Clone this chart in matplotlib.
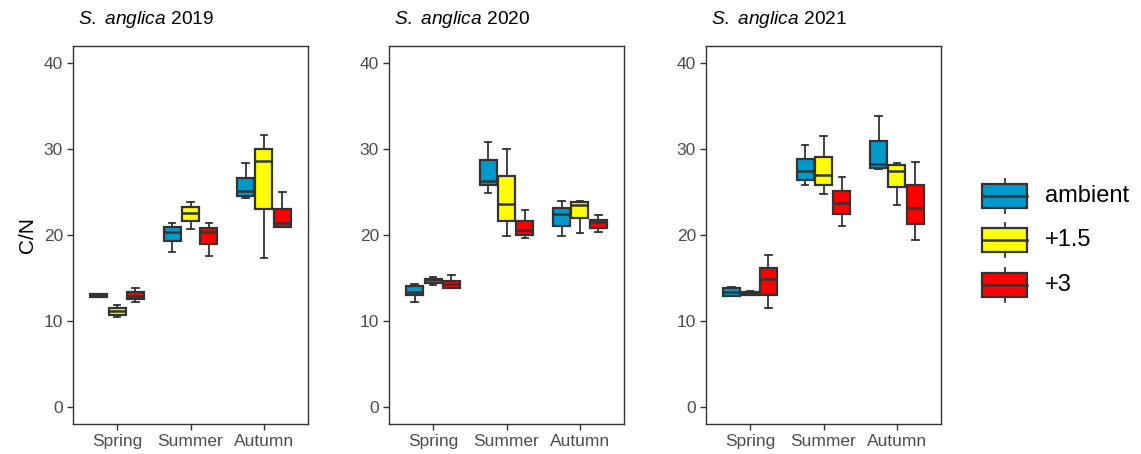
import numpy as np
import matplotlib
matplotlib.use("Agg")
import matplotlib.pyplot as plt
from matplotlib.patches import Rectangle

plt.rcParams['font.family'] = ['Liberation Sans', 'DejaVu Sans']
plt.rcParams['mathtext.fontset'] = 'custom'
plt.rcParams['mathtext.rm'] = 'Liberation Sans'
plt.rcParams['mathtext.it'] = 'Liberation Sans:italic'

#### DATA ####

seasons = ['Spring', 'Summer', 'Autumn']
treatments = ['ambient', '+1.5', '+3']
colours = ['#0099CC', '#FFFF00', '#FF0000']
years = [2019, 2020, 2021]

# C/N box statistics per season: [whislo, q1, median, q3, whishi]
cn_2019_ambient = [[12.75, 12.8, 13.0, 13.1, 13.15],
                   [18.05, 19.25, 20.3, 20.95, 21.4],
                   [24.25, 24.55, 25.1, 26.65, 28.35]]
cn_2019_15 = [[10.45, 10.7, 11.15, 11.55, 11.85],
              [20.7, 21.65, 22.55, 23.25, 23.8],
              [17.35, 23.0, 28.65, 30.05, 31.65]]
cn_2019_3 = [[12.15, 12.5, 12.9, 13.4, 13.8],
             [17.5, 18.9, 20.35, 20.85, 21.4],
             [20.95, 20.95, 21.35, 23.05, 25.05]]

cn_2020_ambient = [[12.25, 13.0, 13.4, 14.05, 14.35],
                   [24.9, 25.8, 26.3, 28.7, 30.8],
                   [19.9, 21.1, 22.5, 23.2, 24.0]]
cn_2020_15 = [[14.2, 14.4, 14.75, 14.9, 15.1],
              [19.9, 21.65, 23.65, 26.85, 30.0],
              [20.25, 22.0, 23.5, 23.85, 23.9]]
cn_2020_3 = [[13.8, 13.8, 14.35, 14.65, 15.3],
             [19.6, 19.95, 20.6, 21.65, 22.9],
             [20.35, 20.8, 21.5, 21.75, 22.3]]

cn_2021_ambient = [[12.85, 12.9, 13.35, 13.8, 13.95],
                   [25.8, 26.45, 27.4, 28.85, 30.45],
                   [27.65, 27.85, 28.3, 30.95, 33.85]]
cn_2021_15 = [[12.98, 13.0, 13.2, 13.4, 13.5],
              [24.8, 25.8, 26.95, 29.05, 31.55],
              [23.5, 25.6, 27.5, 28.1, 28.35]]
cn_2021_3 = [[11.45, 13.0, 14.85, 16.15, 17.65],
             [21.1, 22.4, 23.75, 25.15, 26.7],
             [19.45, 21.25, 23.15, 25.85, 28.55]]

cn_by_year = {
    2019: [cn_2019_ambient, cn_2019_15, cn_2019_3],
    2020: [cn_2020_ambient, cn_2020_15, cn_2020_3],
    2021: [cn_2021_ambient, cn_2021_15, cn_2021_3],
}

#### FIGURE ####

W, H = 1141, 454
fig = plt.figure(figsize=(W / 100, H / 100), dpi=100)

edge = '#333333'
box_lw = 1.6
med_lw = 1.8
wh_lw = 1.3
panel_left = [73, 389, 706]
panel_w = 235
top, bottom = 46, 424

offsets = [-0.25, 0.0, 0.25]

for p, year in enumerate(years):
    ax = fig.add_axes([panel_left[p] / W, (H - bottom) / H,
                       panel_w / W, (bottom - top) / H])
    for t in range(3):
        stats = []
        for s in range(3):
            lo, q1, med, q3, hi = cn_by_year[year][t][s]
            stats.append(dict(whislo=lo, q1=q1, med=med, q3=q3, whishi=hi,
                              fliers=[]))
        pos = np.arange(3) + 1 + offsets[t]
        ax.bxp(stats, positions=pos, widths=0.23, capwidths=0.09,
               patch_artist=True, manage_ticks=False,
               boxprops=dict(facecolor=colours[t], edgecolor=edge, linewidth=box_lw),
               medianprops=dict(color=edge, linewidth=med_lw),
               whiskerprops=dict(color=edge, linewidth=wh_lw),
               capprops=dict(color=edge, linewidth=wh_lw))

    ax.set_xlim(0.4, 3.6)
    ax.set_ylim(-2, 42)
    ax.set_xticks([1, 2, 3])
    ax.set_xticklabels(seasons)
    ax.set_yticks([0, 10, 20, 30, 40])
    for sp in ax.spines.values():
        sp.set_color(edge)
        sp.set_linewidth(1.0)
    ax.tick_params(colors=edge, labelcolor='#4D4D4D', labelsize=12.5,
                   length=4.2, width=1.0, pad=3)

    fig.text((panel_left[p] + 5) / W, (H - 20) / H,
             r'$\mathit{S.\ anglica}$ ' + str(year),
             fontsize=13.8, ha='left', va='center', color='black')

fig.text(27 / W, (H - (top + bottom) / 2) / H, 'C/N', rotation=90,
         fontsize=15, ha='center', va='center')

# legend keys drawn in pixel coordinates
lax = fig.add_axes([0, 0, 1, 1])
lax.set_xlim(0, W)
lax.set_ylim(H, 0)
lax.axis('off')
key_rows = [196, 240, 285]
for label, col, yc in zip(treatments, colours, key_rows):
    lax.add_patch(Rectangle((982, yc - 12), 45, 24, facecolor=col,
                            edgecolor=edge, linewidth=box_lw))
    lax.plot([982, 1027], [yc, yc], color=edge, linewidth=med_lw)
    lax.plot([1004.5, 1004.5], [yc - 17, yc - 12], color=edge, linewidth=wh_lw)
    lax.plot([1004.5, 1004.5], [yc + 12, yc + 17], color=edge, linewidth=wh_lw)
    lax.text(1045, yc, label, fontsize=17, ha='left', va='center')

fig.savefig('out.png', dpi=100)
